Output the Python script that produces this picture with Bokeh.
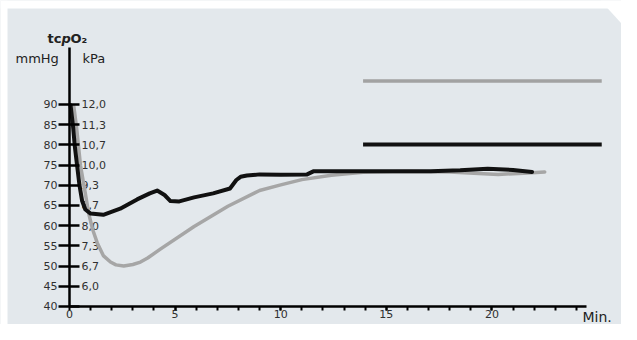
from bokeh.plotting import figure
from bokeh.models import FixedTicker, Range1d, Label, PolyAnnotation, LinearAxis, ColumnDataSource
from bokeh.core.properties import value
from bokeh.embed import file_html
from bokeh.resources import INLINE

# ---- data ----
black_t = [0.05, 0.17, 0.25, 0.36, 0.47, 0.6, 0.75, 1.0, 1.6, 2.4, 3.2, 3.8, 4.15, 4.5, 4.78,
           5.2, 5.9, 6.8, 7.6, 7.9, 8.1, 8.4, 9.0, 10.0, 11.25, 11.57, 13.0, 15.0, 17.1,
           18.5, 19.8, 21.0, 21.9]
black_v = [89.8, 84.5, 79.7, 74.9, 70.1, 66.1, 64.0, 63.0, 62.7, 64.2, 66.5, 68.0, 68.7, 67.6, 66.1,
           66.0, 67.0, 68.0, 69.2, 71.3, 72.1, 72.4, 72.7, 72.6, 72.7, 73.5, 73.5, 73.5, 73.5,
           73.7, 74.1, 73.8, 73.3]

gray_t = [0.2, 0.33, 0.52, 0.68, 0.91, 1.1, 1.31, 1.6, 1.94, 2.2, 2.57, 3.0, 3.36, 3.7, 4.3,
          5.9, 7.5, 9.0, 10.0, 11.0, 12.4, 13.9, 16.0, 18.0, 20.3, 21.5, 22.5]
gray_v = [89.7, 84.5, 74.9, 70.1, 63.0, 59.0, 55.8, 52.6, 51.0, 50.3, 50.0, 50.4, 51.0, 52.0, 54.2,
          59.8, 64.8, 68.7, 70.1, 71.4, 72.5, 73.2, 73.4, 73.3, 72.7, 73.0, 73.3]

ref_t = [13.9, 25.2]
ref_gray_v = [95.8, 95.8]
ref_black_v = [80.1, 80.1]

mmhg_ticks = [40, 45, 50, 55, 60, 65, 70, 75, 80, 85, 90]
kpa_pos = [45, 50, 55, 60, 65, 70, 75, 80, 85, 90]
kpa_labels = ["6,0", "6,7", "7,3", "8,0", "8,7", "9,3", "10,0", "10,7", "11,3", "12,0"]
min_major = [0, 5, 10, 15, 20]
min_minor = list(range(1, 25))

BG = "#e3e8ec"
FONT = "DejaVu Sans"
TXT = "#303030"
W, H = 621, 324

p = figure(width=W, height=H,
           x_range=Range1d(-3.267, 26.136), y_range=Range1d(35.54, 115.74),
           output_backend="svg", toolbar_location=None,
           x_axis_type=None, y_axis_type=None,
           min_border=0, min_border_left=0, min_border_right=0, min_border_top=0, min_border_bottom=0,
           background_fill_color=BG, border_fill_color=BG, outline_line_color=None)

yax = LinearAxis(fixed_location=0, ticker=FixedTicker(ticks=mmhg_ticks, minor_ticks=[]),
                 bounds=(40, 104.2),
                 axis_line_width=2.5, axis_line_color="black",
                 major_tick_in=10, major_tick_out=11, major_tick_line_width=2.7,
                 major_tick_line_color="black", minor_tick_line_color=None,
                 major_label_standoff=1, major_label_text_font_size="11px",
                 major_label_text_color=TXT, major_label_text_font=FONT)
p.add_layout(yax, "left")

xax = LinearAxis(fixed_location=40, ticker=FixedTicker(ticks=min_major, minor_ticks=min_minor),
                 bounds=(0, 24.5),
                 axis_line_width=2.5, axis_line_color="black",
                 major_tick_in=0, major_tick_out=4, minor_tick_in=0, minor_tick_out=4,
                 major_tick_line_width=2, minor_tick_line_width=2,
                 major_tick_line_color="black", minor_tick_line_color="black",
                 major_label_standoff=0, major_label_text_font_size="11px",
                 major_label_text_color=TXT, major_label_text_font=FONT)
p.add_layout(xax, "below")

ksrc = ColumnDataSource(dict(x=[0] * len(kpa_pos), y=kpa_pos, t=kpa_labels))
p.text(x="x", y="y", text="t", source=ksrc, x_offset=12, text_align="left",
       text_baseline="middle", text_font=value(FONT), text_font_size="11px", text_color=TXT)

p.line(ref_t, ref_gray_v, line_color="#a2a2a2", line_width=3.5)
p.line(ref_t, ref_black_v, line_color="#111111", line_width=4)
p.line(gray_t, gray_v, line_color="#a6a6a6", line_width=3.5, line_join="round", line_cap="round")
p.line(black_t, black_v, line_color="#111111", line_width=4, line_join="round", line_cap="round")

# labels in screen units (origin: bottom-left of the frame, which fills the canvas)
def lab(x, y, text, size="13px", style="normal"):
    p.add_layout(Label(x=x, y=y, x_units="screen", y_units="screen", text=text,
                       text_font=FONT, text_font_size=size, text_font_style=style,
                       text_color="#222222", text_align="left", text_baseline="middle"))

lab(47, 286, "tc", "13px", "bold")
lab(61, 286, "p", "13px", "bold italic")
lab(70, 286, "O₂", "13px", "bold")
lab(15, 266, "mmHg", "13px")
lab(82, 266, "kPa", "13px")
lab(582, 8, "Min.", "14px")

# white scan edges: top band, left band, cut corner
white = dict(xs_units="screen", ys_units="screen", fill_color="white", fill_alpha=1, line_color=None)
p.add_layout(PolyAnnotation(xs=[0, W, W, 0], ys=[H, H, H - 8, H - 8], **white))
p.add_layout(PolyAnnotation(xs=[0, 7, 7, 0], ys=[0, 0, H, H], **white))
p.add_layout(PolyAnnotation(xs=[600, W, W], ys=[H, H, H - 23], **white))

open("out.html", "w").write(file_html(p, INLINE))
